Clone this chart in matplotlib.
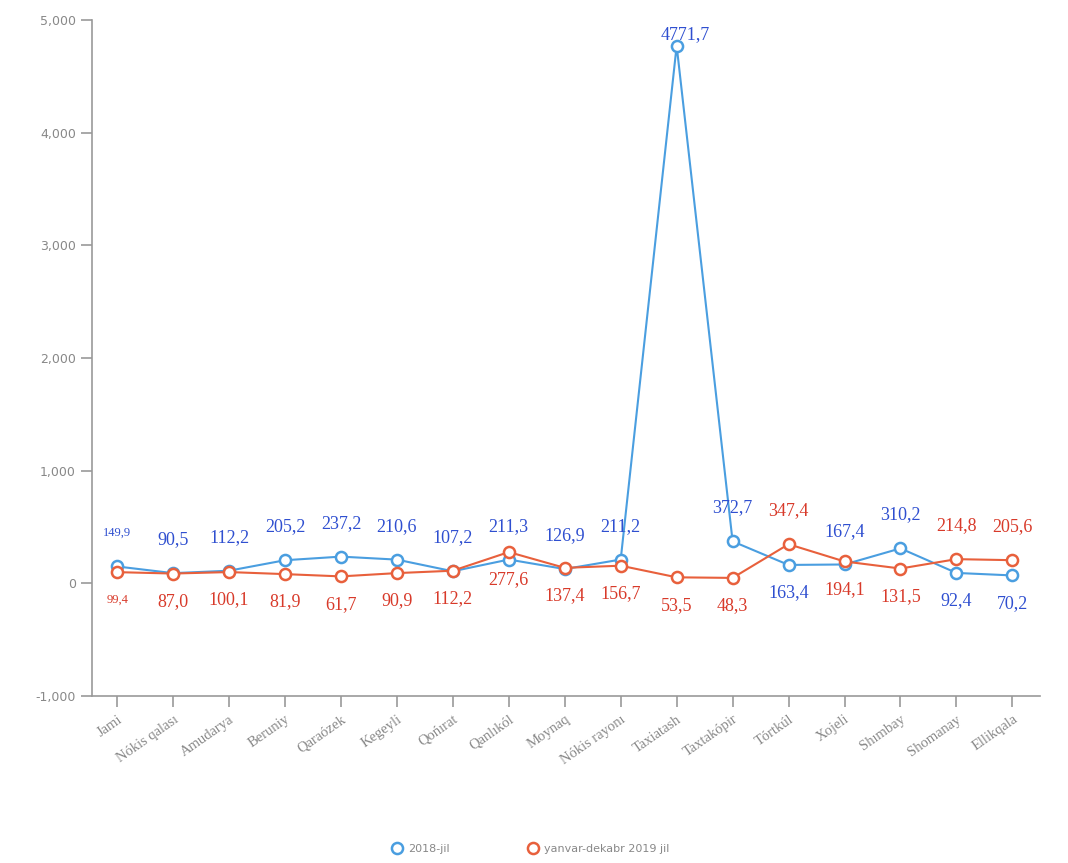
import matplotlib
matplotlib.use('Agg')
import matplotlib.pyplot as plt
from matplotlib.ticker import FuncFormatter

### Data
districts = ['Jami', 'Nókis qalası', 'Amudarya', 'Beruniy', 'Qaraózek', 'Kegeyli',
             "Qońırat", 'Qanlıkól', 'Moynaq', 'Nókis rayonı', 'Taxiatash',
             'Taxtakópir', 'Tórtkúl', 'Xojeli', 'Shımbay', 'Shomanay', 'Ellikqala']
vals_2018 = [149.9, 90.5, 112.2, 205.2, 237.2, 210.6, 107.2, 211.3, 126.9, 211.2,
             4771.7, 372.7, 163.4, 167.4, 310.2, 92.4, 70.2]
vals_2019 = [99.4, 87.0, 100.1, 81.9, 61.7, 90.9, 112.2, 277.6, 137.4, 156.7,
             53.5, 48.3, 347.4, 194.1, 131.5, 214.8, 205.6]
name_2018 = '2018-jil'
name_2019 = 'yanvar-dekabr 2019 jil'

# which side the 2018 label sits on (+1 above, -1 below); 2019 label takes the other side
side_2018 = [1, 1, 1, 1, 1, 1, 1, 1, 1, 1, 1, 1, -1, 1, 1, -1, -1]

blue_line = '#4a9ee0'
blue_text = '#2f4fd0'
red_line = '#e8603c'
red_text = '#d83a2a'
grey = '#888888'

fig = plt.figure(figsize=(10.68, 8.63), dpi=100)
ax = fig.add_axes([0.0861, 0.1935, 0.888, 0.7833])

x = list(range(len(districts)))
ax.plot(x, vals_2018, color=blue_line, lw=1.5, marker='o', ms=8, mfc='white',
        mec=blue_line, mew=1.8, label=name_2018, zorder=3)
ax.plot(x, vals_2019, color=red_line, lw=1.5, marker='o', ms=8, mfc='white',
        mec=red_line, mew=1.8, label=name_2019, zorder=3)

for i in x:
    fs = 9 if i == 0 else 13
    s = side_2018[i]
    for v, col, sd in ((vals_2018[i], blue_text, s), (vals_2019[i], red_text, -s)):
        txt = ('%.1f' % v).replace('.', ',')
        off = 24 if sd > 0 else -20
        if v > 4500:
            # label is pushed down to stay inside the plot
            off = 8
        dx = 6 if v > 4500 else 0
        ax.annotate(txt, (i, v), xytext=(dx, off), textcoords='offset points',
                    ha='center', va='center', color=col, fontsize=fs,
                    family='Liberation Serif', zorder=4)

ax.set_ylim(-1000, 5000)
ax.set_xlim(-0.45, 16.5)
ax.set_yticks(range(-1000, 5001, 1000))
ax.yaxis.set_major_formatter(FuncFormatter(lambda v, p: '{:,.0f}'.format(v)))
ax.set_xticks(x)
ax.set_xticklabels(districts, rotation=35, ha='right', rotation_mode='anchor',
                   family='Liberation Serif', fontsize=10.5, color=grey)
for lab in ax.get_yticklabels():
    lab.set_fontsize(9)
    lab.set_color(grey)

for sp in ('top', 'right'):
    ax.spines[sp].set_visible(False)
for sp in ('left', 'bottom'):
    ax.spines[sp].set_color('#999999')
    ax.spines[sp].set_linewidth(1.2)
ax.tick_params(axis='both', length=8, color='#999999', width=1.2)
ax.tick_params(axis='x', pad=4)

fig.legend(loc='center', bbox_to_anchor=(0.497, 0.016), ncol=2, frameon=False,
           labelcolor=grey, handlelength=1.0, handletextpad=0.5, columnspacing=7,
           prop={'family': 'DejaVu Sans', 'size': 8})
leg = fig.legends[0]
for h in leg.legend_handles:
    h.set_linestyle('')

fig.savefig('out.png', dpi=100)
